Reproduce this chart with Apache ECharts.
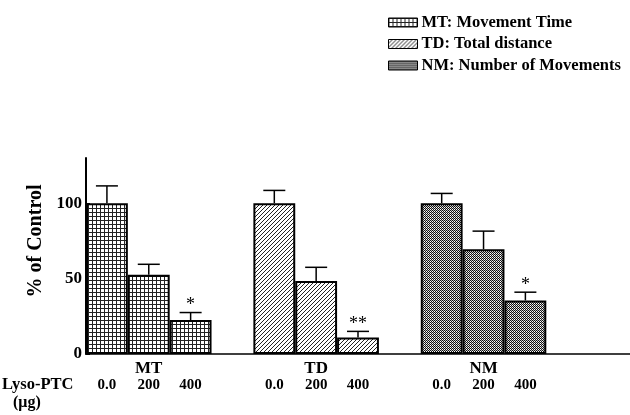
<!DOCTYPE html>
<html><head><meta charset="utf-8">
<script src="https://cdn.jsdelivr.net/npm/echarts@6/dist/echarts.min.js"></script>
<style>html,body{margin:0;padding:0;background:#fff}#c{width:630px;height:415px}</style>
</head><body><div id="c"></div>
<script>
// ---- data ----
const slots = ['0.0','200','400','', '0.0','200','400','', '0.0','200','400','', ''];
const groupLabels = ['', 'MT', '', '', '', 'TD', '', '', '', 'NM', '', '', ''];
const seriesNames = ['MT: Movement Time', 'TD: Total distance', 'NM: Number of Movements'];
const mtValues = [100, 52.5, 22.5];
const tdValues = [100, 48.5, 11];
const nmValues = [100, 69.5, 35.5];
const mtErr = [11.5, 7, 5];
const tdErr = [8.5, 9, 4];
const nmErr = [6.5, 12, 5.5];
const mtSig = ['', '', '*'];
const tdSig = ['', '', '**'];
const nmSig = ['', '', '*'];
const groupStart = [0, 4, 8];
const yTicks = [0, 50, 100];

// ---- patterns ----
function makeCanvas(w, h, draw) {
  const c = document.createElement('canvas'); c.width = w; c.height = h;
  const ctx = c.getContext('2d'); ctx.fillStyle = '#fff'; ctx.fillRect(0, 0, w, h);
  draw(ctx); return c;
}
const gridPat = makeCanvas(4, 4, ctx => { ctx.fillStyle = '#222'; ctx.fillRect(0, 0, 4, 1); ctx.fillRect(0, 0, 1, 4); });
const diagPat = makeCanvas(4, 4, ctx => { ctx.fillStyle = '#222'; for (let i = 0; i < 4; i++) ctx.fillRect(3 - i, i, 1, 1); });
const dotPat = makeCanvas(2, 2, ctx => { ctx.fillStyle = '#111'; ctx.fillRect(0, 0, 1, 1); ctx.fillRect(1, 1, 1, 1); ctx.fillStyle = '#bbb'; ctx.fillRect(1, 0, 1, 1); });
const patterns = [gridPat, diagPat, dotPat];

const allValues = [mtValues, tdValues, nmValues];
const allErr = [mtErr, tdErr, nmErr];
const allSig = [mtSig, tdSig, nmSig];

const barSeries = seriesNames.map((name, s) => {
  const data = slots.map(() => null);
  allValues[s].forEach((v, i) => { data[groupStart[s] + i] = v; });
  return {
    name, type: 'bar', data, barGap: '-100%', barCategoryGap: 0,
    itemStyle: { color: { image: patterns[s], repeat: 'repeat' }, borderColor: '#000', borderWidth: 2 },
    emphasis: { disabled: true }, z: 2
  };
});

const errData = [];
for (let s = 0; s < 3; s++) for (let i = 0; i < 3; i++)
  errData.push([groupStart[s] + i, allValues[s][i], allErr[s][i], allSig[s][i]]);

const serif = '"Liberation Serif", "DejaVu Serif", serif';

const chart = echarts.init(document.getElementById('c'), null, { renderer: 'canvas' });
chart.setOption({
  animation: false,
  grid: { left: 86, right: -2, top: 158, bottom: 61 },
  legend: {
    orient: 'vertical', left: 388, top: 14, padding: 0, itemWidth: 29, itemHeight: 9, itemGap: 4.5,
    icon: 'rect',
    itemStyle: { borderColor: '#000', borderWidth: 1 },
    data: seriesNames, selectedMode: false,
    textStyle: { fontFamily: serif, fontWeight: 'bold', fontSize: 16.5, color: '#000', padding: [0, 0, 0, -1] }
  },
  xAxis: {
    type: 'category', data: slots,
    axisTick: { show: false },
    axisLine: { lineStyle: { color: '#000', width: 1.5 } },
    axisLabel: {
      interval: 0, margin: 6,
      formatter: (v, idx) => '{g|' + (groupLabels[idx] || ' ') + '}\n{d|' + (v || ' ') + '}',
      rich: {
        g: { fontFamily: serif, fontWeight: 'bold', fontSize: 17, color: '#000', lineHeight: 17 },
        d: { fontFamily: serif, fontWeight: 'bold', fontSize: 15, color: '#000', lineHeight: 17 }
      }
    }
  },
  yAxis: {
    type: 'value', min: 0, max: 130, interval: 50,
    splitLine: { show: false },
    axisLine: { show: true, lineStyle: { color: '#000', width: 2 } },
    axisTick: { show: true, inside: true, length: 4, lineStyle: { color: '#000' } },
    axisLabel: {
      showMaxLabel: false, margin: 4,
      formatter: v => (yTicks.indexOf(v) >= 0 ? String(v) : ''),
      fontFamily: serif, fontWeight: 'bold', fontSize: 17, color: '#000'
    }
  },
  series: barSeries.concat([{
    type: 'custom', data: errData, z: 3, silent: true,
    encode: { x: 0, y: 1 },
    renderItem: (params, api) => {
      const x = api.value(0), v = api.value(1), e = api.value(2);
      const sig = errData[params.dataIndex][3];
      const p0 = api.coord([x, v]);
      const p1 = api.coord([x, v + e]);
      const children = [
        { type: 'line', shape: { x1: p0[0], y1: p0[1], x2: p1[0], y2: p1[1] }, style: { stroke: '#000', lineWidth: 1.5 } },
        { type: 'line', shape: { x1: p1[0] - 11, y1: p1[1], x2: p1[0] + 11, y2: p1[1] }, style: { stroke: '#000', lineWidth: 1.5 } }
      ];
      if (sig) children.push({
        type: 'text', x: p1[0], y: p1[1] + 2,
        style: { text: sig, fill: '#000', font: '18px ' + serif, textAlign: 'center', textVerticalAlign: 'bottom' }
      });
      return { type: 'group', children };
    }
  }]),
  graphic: [
    { type: 'text', x: 36, y: 241, rotation: Math.PI / 2,
      style: { text: '% of Control', font: 'bold 20px ' + serif, fill: '#000', textAlign: 'center', textVerticalAlign: 'middle' } },
    { type: 'text', left: 2, top: 376, style: { text: 'Lyso-PTC', font: 'bold 16.5px ' + serif, fill: '#000' } },
    { type: 'text', left: 13, top: 395, style: { text: '(\u03bcg)', font: 'bold 16px ' + serif, fill: '#000' } }
  ]
});
</script></body></html>
